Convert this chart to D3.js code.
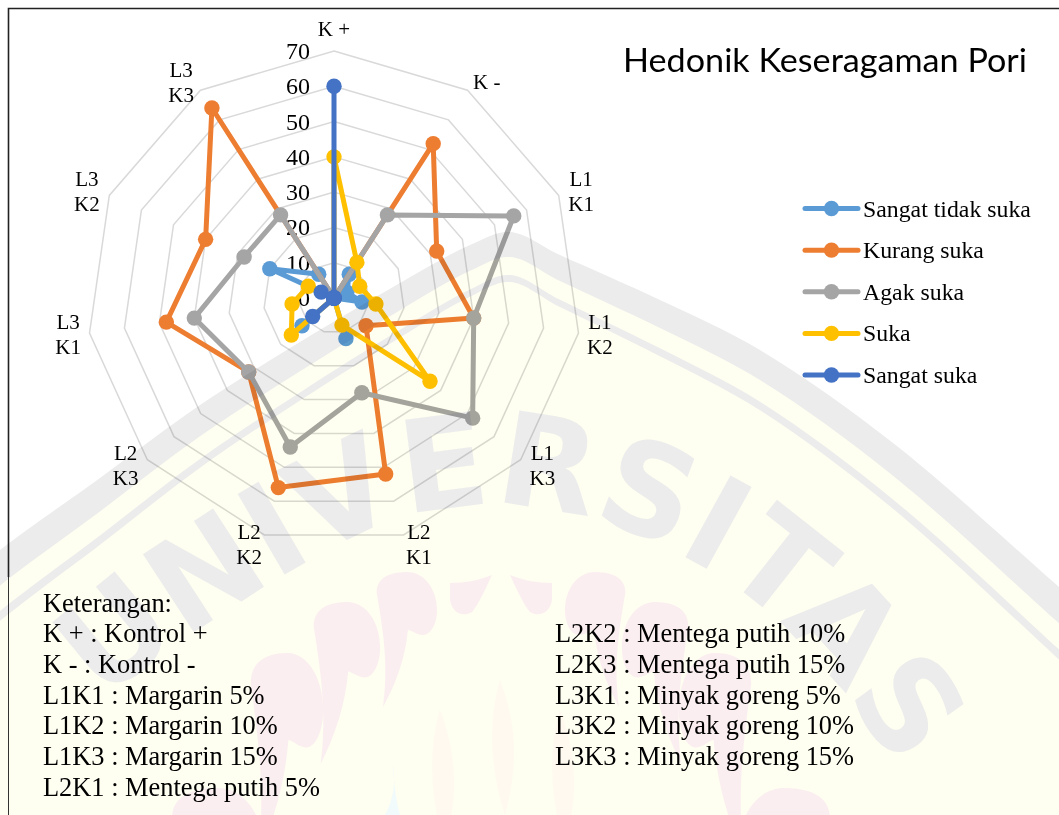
<!DOCTYPE html>
<html><head><meta charset="utf-8">
<script src="https://cdn.jsdelivr.net/npm/d3@7"></script>
<style>
html,body{margin:0;padding:0;background:#fff}
svg{display:block}
text{fill:#000;font-family:"Liberation Serif",serif}
</style></head><body>
<svg id="c" width="1059" height="815"></svg>
<script>
const categories=["K +","K -","L1 K1","L1 K2","L1 K3","L2 K1","L2 K2","L2 K3","L3 K1","L3 K2","L3 K3"];
const seriesNames=["Sangat tidak suka","Kurang suka","Agak suka","Suka","Sangat suka"];
const sangatTidakSuka=[0,8,4,8,0,12,0,12,0,20,8];
const kurangSuka=[0,52,32,40,12,52,56,32,48,40,64];
const agakSuka=[0,28,56,40,52,28,44,32,40,28,28];
const suka=[40,12,8,12,36,8,0,16,12,8,0];
const sangatSuka=[60,0,0,0,0,0,0,8,0,4,0];
const seriesValues=[sangatTidakSuka,kurangSuka,agakSuka,suka,sangatSuka];
const seriesColors=["#5B9BD5","#ED7D31","#A5A5A5","#FFC000","#4472C4"];
const ticks=[0,10,20,30,40,50,60,70];
const notesLeft=["Keterangan:","K + : Kontrol +","K - : Kontrol -","L1K1 : Margarin 5%","L1K2 : Margarin 10%","L1K3 : Margarin 15%","L2K1 : Mentega putih 5%"];
const notesRight=["L2K2 : Mentega putih 10%","L2K3 : Mentega putih 15%","L3K1 : Minyak goreng 5%","L3K2 : Minyak goreng 10%","L3K3 : Minyak goreng 15%"];
const chartTitle="Hedonik Keseragaman Pori";

const svg=d3.select("#c");
const cx=334,cy=298;
const r=d3.scaleLinear().domain([0,70]).range([0,247]);
const ang=d3.scalePoint().domain(d3.range(categories.length+1)).range([0,2*Math.PI]);
const px=(i,v)=>cx+r(v)*Math.sin(ang(i));
const py=(i,v)=>cy-r(v)*Math.cos(ang(i));
const idx=d3.range(categories.length);

// frame
svg.append("path").attr("d","M1059,8.5H8.5V577").attr("fill","none").attr("stroke","#222").attr("stroke-width",1.6);
svg.append("path").attr("d","M8.5,577V815").attr("fill","none").attr("stroke","#333").attr("stroke-width",1);

// grid
const ring=d3.lineRadial().curve(d3.curveLinearClosed).angle(i=>ang(i));
svg.append("g").selectAll("path").data(ticks.slice(1)).join("path")
 .attr("transform",`translate(${cx},${cy})`)
 .attr("d",t=>ring.radius(()=>r(t))(idx))
 .attr("fill","none").attr("stroke","#d9d9d9").attr("stroke-width",1.5);

// tick labels
svg.append("g").selectAll("text").data(ticks).join("text")
 .attr("x",310).attr("y",t=>cy-r(t)+8).attr("text-anchor","end")
 .style("font-size","24px").text(t=>t);

// category labels
const lab=svg.append("g").selectAll("text").data(categories).join("text")
 .attr("text-anchor","middle").style("font-size","21px");
lab.each(function(c,i){
  const t=d3.select(this),parts=c[0]=="L"?c.split(" "):[c];
  const a=ang(i);
  const x=px(i,75.7)+Math.sign(Math.round(Math.sin(a)*100))*10*Math.abs(Math.cos(a));
  const y=cy+(py(i,75.7)-cy)*(i?0.96:1.008);
  parts.forEach((p,k)=>t.append("tspan").attr("x",x)
    .attr("y",y+7+(k-(parts.length-1)/2)*25).text(p));
});

// series
seriesValues.forEach((vals,s)=>{
  const g=svg.append("g");
  g.append("path").attr("d",d3.line().curve(d3.curveLinearClosed).x((v,i)=>px(i,v)).y((v,i)=>py(i,v))(vals))
   .attr("fill","none").attr("stroke",seriesColors[s]).attr("stroke-width",5)
   .attr("stroke-linejoin","round");
  g.selectAll("circle").data(vals).join("circle")
   .attr("cx",(v,i)=>px(i,v)).attr("cy",(v,i)=>py(i,v)).attr("r",7.7)
   .attr("fill",seriesColors[s]);
});

// title
svg.append("text").attr("x",623).attr("y",72).style("font-family","Lato,sans-serif")
 .style("font-size","32px").attr("textLength",404).attr("lengthAdjust","spacingAndGlyphs").text(chartTitle);

// legend
const ly=d3.scalePoint().domain(seriesNames).range([208.5,375]);
const lg=svg.append("g").selectAll("g").data(seriesNames).join("g")
 .attr("transform",d=>`translate(0,${ly(d)})`);
lg.append("line").attr("x1",805).attr("x2",858).attr("stroke",(d,i)=>seriesColors[i])
 .attr("stroke-width",5).attr("stroke-linecap","round");
lg.append("circle").attr("cx",831.5).attr("r",7.7).attr("fill",(d,i)=>seriesColors[i]);
lg.append("text").attr("x",863).attr("y",8).style("font-size","23.8px").text(d=>d);

// notes
const rowY=d3.scaleLinear().domain([0,6]).range([611.7,795.7]);
svg.append("g").selectAll("text").data(notesLeft).join("text")
 .attr("x",43).attr("y",(d,i)=>rowY(i)).style("font-size","26.4px").text(d=>d);
svg.append("g").selectAll("text").data(notesRight).join("text")
 .attr("x",555).attr("y",(d,i)=>rowY(i+1)).style("font-size","26.4px").text(d=>d);

// watermark, multiplied over everything
const wm=svg.append("g").style("mix-blend-mode","multiply");
const edge=[[-60,600],[0,550],[100,478],[200,405],[300,342],[400,283],[470,245],[510,232],[560,255],[660,300],[760,350],[893,443],[1059,587],[1120,640]];
const crv=d3.line().curve(d3.curveCatmullRom);
const shifted=b=>edge.map(([x,y])=>[x,y+b*(1+Math.abs(x-510)/550*0.45)]);
const closed=b=>crv(shifted(b))+"L1120,830L-60,830Z";
[[0,"#ececec"],[25,"#fefef1"],[43,"#ececec"],[50,"#fefef1"]].forEach(([b,f])=>
  wm.append("path").attr("d",closed(b)).attr("fill",f));
// emblem
const flame="M376.7,593C376,575 395,572 407,572C425,572 437,590 437,610C437,625 430,635 423,635C417,635 411,630 408,630C405,660 395,685 383,707C388,670 385,640 376.7,593Z";
const drop="M450,583C465,583 480,580 492,575C485,590 478,605 472,612C462,618 452,612 450,600Z";
const petal="M500,680C515,720 520,760 505,815C490,770 488,720 500,680Z";
const fl=[[0,0,1,1],[-63,30,1.1,1.2],[-126,81,1.2,1.5],[-205,216,1.5,1.5]];
const side=(g)=>{
 fl.forEach(([a,b,sx,sy])=>g.append("path").attr("d",flame)
   .attr("transform",`translate(${a+376*(1-sx)},${b+572*(1-sy)}) scale(${sx},${sy})`).attr("fill","#fbeef0"));
 g.append("path").attr("d",drop).attr("fill","#fbeef0");
};
side(wm.append("g"));
side(wm.append("g").attr("transform","translate(1002,0) scale(-1,1)"));
wm.append("path").attr("d",petal).attr("fill","#fff9ef");
wm.append("path").attr("d",petal).attr("transform","translate(-60,30)").attr("fill","#fff9ef");
wm.append("path").attr("d",petal).attr("transform","translate(60,30)").attr("fill","#fff9ef");
wm.append("path").attr("d","M393,763C396,785 393,800 385,815L400,815C396,800 394,785 393,763Z").attr("fill","#f2fbfb");
// lettering
const base=[[50,770],[130,680],[213,620],[323,553],[400,518],[500,505],[574,515],[640,535],[687,558],[747,595],[820,665],[900,770],[960,850]];
svg.append("defs").append("path").attr("id","wmbase").attr("d",crv(base));
wm.append("text").style("font-family","'DejaVu Sans',sans-serif").style("font-weight","bold")
 .style("font-size","128px").style("fill","#ececec")
 .append("textPath").attr("href","#wmbase").attr("startOffset","85").text("UNIVERSITAS");
</script>
</body></html>
